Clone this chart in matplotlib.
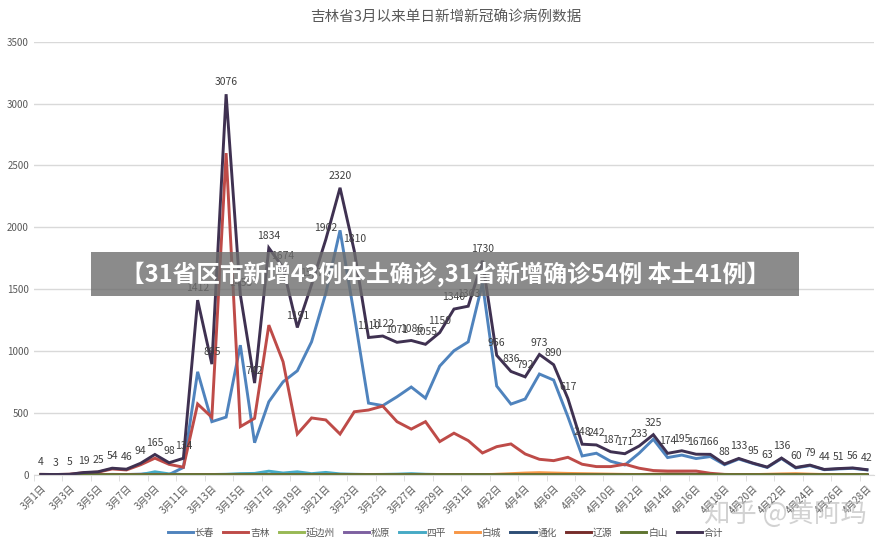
import numpy as np
import matplotlib.pyplot as plt
from matplotlib.patches import Rectangle

plt.rcParams['font.family'] = ['Noto Sans CJK SC', 'DejaVu Sans']

# 日期: 3月1日 - 4月28日
dates = ['3月%d日' % d for d in range(1, 32)] + ['4月%d日' % d for d in range(1, 29)]

changchun = [0, 0, 0, 1, 2, 4, 3, 6, 12, 3, 60,
             833, 430, 467, 1048, 260, 591, 752, 841, 1075, 1467, 1976, 1290,
             580, 560, 631, 710, 620, 879, 1003, 1075, 1548,
             718, 572, 613, 815, 766, 470,
             153, 175, 110, 80, 175, 288, 140, 160, 132, 148,
             82, 128, 92, 60, 132, 56, 75, 42, 48, 53, 40]
jilin = [4, 3, 5, 17, 22, 48, 40, 82, 135, 85, 62,
         573, 465, 2600, 390, 457, 1210, 914, 330, 460, 444, 330, 510,
         524, 556, 430, 370, 430, 269, 337, 277, 177,
         228, 250, 169, 126, 115, 142,
         86, 67, 67, 86, 54, 35, 31, 31, 31, 13,
         4, 2, 1, 0, 0, 0, 0, 0, 0, 0, 0]
yanbian = [0] * 9 + [2] * 45 + [1] * 5
songyuan = [0, 0, 0, 0, 0, 1, 2, 3, 2, 1] + [0] * 49
siping = [0, 0, 0, 0, 0, 0, 0, 2, 25, 8, 3,
          2, 3, 5, 10, 12, 30, 15, 25, 10, 20, 8, 5,
          3, 4, 6, 10, 5, 3, 2, 2, 2] + [0] * 27
baicheng = [0] * 32 + [5, 10, 15, 18, 15, 12, 10, 8, 6, 4, 3, 5, 6, 5, 3, 2,
                       1, 1, 2, 5, 8, 10, 6, 3, 2, 1, 1]
tonghua = [0] * 59
liaoyuan = [0] * 43 + [4, 6, 6, 5, 3] + [0] * 11
baishan = [0] * 10 + [1] * 49
total = [4, 3, 5, 19, 25, 54, 46, 94, 165, 98, 134,
         1412, 895, 3076, 1455, 742, 1834, 1674, 1191, 1537, 1902, 2320, 1810,
         1110, 1122, 1071, 1086, 1055, 1150, 1340, 1363, 1730,
         966, 836, 792, 973, 890, 617,
         248, 242, 187, 171, 233, 325, 174, 195, 167, 166,
         88, 133, 95, 63, 136, 60, 79, 44, 51, 56, 42]

names = ['长春', '吉林', '延边州', '松原', '四平', '白城', '通化', '辽源', '白山', '合计']
series = [changchun, jilin, yanbian, songyuan, siping, baicheng, tonghua, liaoyuan, baishan, total]
colors = ['#4f83bd', '#be4b48', '#98b954', '#7d60a0', '#46aac5', '#f79646',
          '#2c4d75', '#772c2a', '#5f7530', '#3f3151']

fig = plt.figure(figsize=(8.91, 5.49), dpi=100)
ax = fig.add_axes([0.038, 0.135, 0.943, 0.789])

x = np.arange(len(dates))
for name, vals, c in zip(names, series, colors):
    ax.plot(x, vals, color=c, lw=2.1, label=name, solid_joinstyle='miter')

# 合计的数据标签
for i, v in enumerate(total):
    ax.annotate(str(v), (i, v), xytext=(0, 5), textcoords='offset points',
                ha='center', va='bottom', fontsize=7.5, color='#404040')

ax.set_xlim(-0.5, len(dates) - 0.5)
ax.set_ylim(0, 3500)
ax.set_yticks(np.arange(0, 3501, 500))
ax.grid(axis='y', color='#d9d9d9', lw=1)
ax.set_axisbelow(True)
ax.set_xticks(x[::2])
ax.set_xticklabels(dates[::2], rotation=45, ha='right', rotation_mode='anchor',
                   fontsize=7, color='#595959')
ax.set_xticks(np.arange(-0.5, len(dates), 2), minor=True)
ax.tick_params(axis='x', which='major', length=0, pad=6)
ax.tick_params(axis='x', which='minor', length=4, color='#d9d9d9')
ax.tick_params(axis='y', length=0, labelsize=7, labelcolor='#595959')
for s in ['left', 'right', 'top']:
    ax.spines[s].set_visible(False)
ax.spines['bottom'].set_color('#d9d9d9')

fig.text(0.5, 0.968, '吉林省3月以来单日新增新冠确诊病例数据', ha='center', va='center',
         fontsize=10.5, color='#595959')

fig.legend(loc='center', bbox_to_anchor=(0.5, 0.03), ncol=10, frameon=False,
           fontsize=7, handlelength=2.6, columnspacing=0.9, handletextpad=0.2,
           labelcolor='#595959')

# 水印
fig.text(0.882, 0.064, '知乎 @黄阿玛', ha='center', va='center', fontsize=19,
         color='#bfbfbf', alpha=0.7)

# 顶部横幅
fig.patches.append(Rectangle((0.102, 0.461), 0.795, 0.08, transform=fig.transFigure,
                             facecolor='#6e6e6e', alpha=0.8, edgecolor='none', zorder=5))
fig.text(0.4995, 0.501, '【31省区市新增43例本土确诊,31省新增确诊54例 本土41例】',
         ha='center', va='center', fontsize=17, fontweight='bold', color='white', zorder=6)

fig.savefig('out.png', dpi=100)
